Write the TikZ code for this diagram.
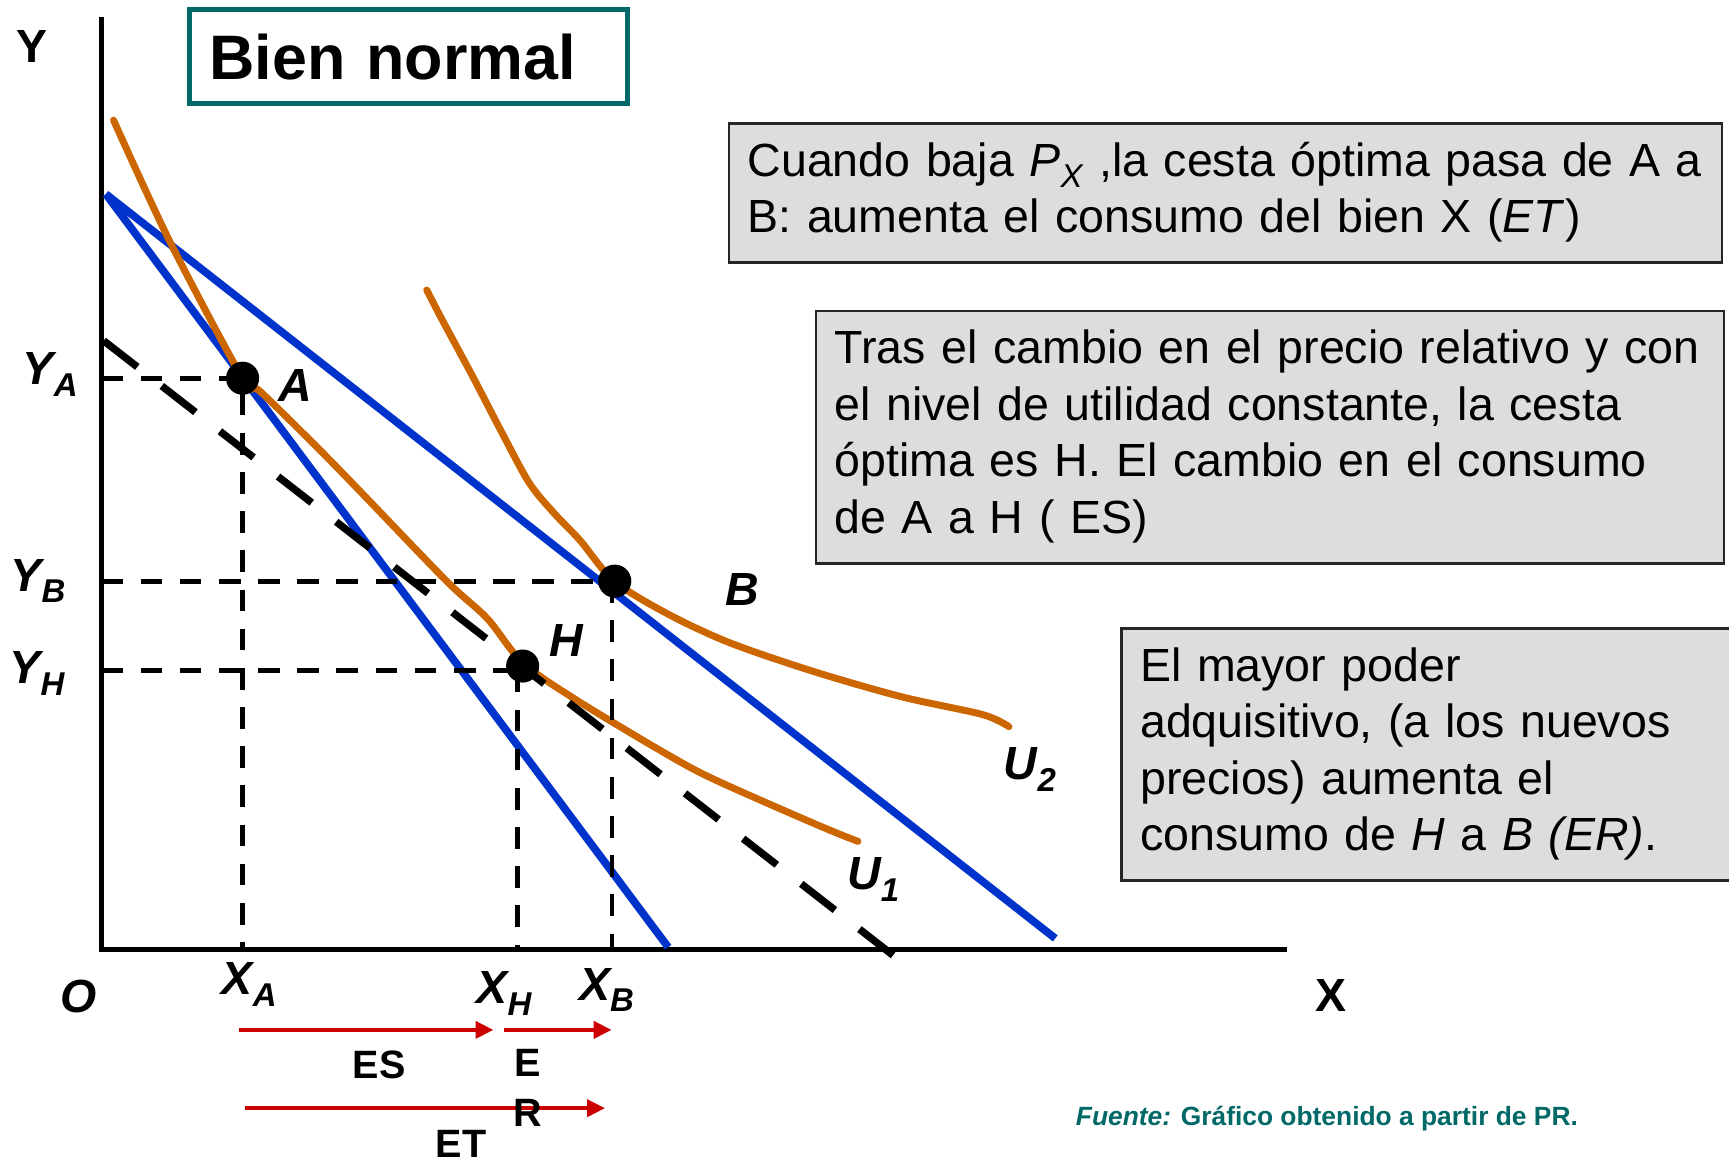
\documentclass[tikz,border=0pt]{standalone}
\usepackage{fontspec}
\setmainfont{Liberation Sans}
\usetikzlibrary{arrows.meta}
\definecolor{budgetblue}{RGB}{0,51,204}
\definecolor{utilorange}{RGB}{204,102,0}
\definecolor{titleteal}{RGB}{0,104,102}
\definecolor{notegray}{RGB}{221,221,221}
\definecolor{effectred}{RGB}{204,0,0}
\newcommand{\lowsub}[1]{\raisebox{-3pt}{\fontsize{8.5}{8.5}\selectfont #1}}
\newcommand{\notelines}[1]{\begin{tabular}{@{}l@{}}#1\end{tabular}}

\begin{document}
\begin{tikzpicture}[x=0.01cm,y=-0.01cm]
        \tikzset{budget/.style={draw=budgetblue,line width=2pt},
            indiff/.style={draw=utilorange,line width=1.8pt,line cap=round,line join=round},
            guide/.style={draw,line width=1.25pt,dash pattern=on 5.6pt off 4.5pt},
            compensated/.style={draw,line width=1.9pt,dash pattern=on 11pt off 8pt},
            basket/.style={circle,fill=black,inner sep=0pt,minimum size=0.3cm},
            axislabel/.style={anchor=base,font=\fontsize{12}{12}\selectfont\bfseries},
            curvelabel/.style={anchor=base,font=\fontsize{12}{12}\selectfont\bfseries\itshape},
            note/.style={anchor=north west,outer sep=0pt,draw=black!85,line width=0.7pt,fill=notegray,
                align=left,inner xsep=0.17cm,font=\fontsize{12}{14.6}\selectfont},
            effect/.style={draw=effectred,line width=0.95pt,-{Triangle[length=4.6pt,width=4.4pt]}},
            effectlabel/.style={anchor=base,font=\fontsize{10.2}{10.2}\selectfont\bfseries}}
        \useasboundingbox (0,0) rectangle (1568,1054);
        \node[anchor=north west,outer sep=0pt,draw=titleteal,line width=1.3pt,minimum height=0.85cm,
            text width=3.61cm,inner xsep=0.18cm,align=left,
            font=\fontsize{16.2}{16.2}\selectfont\bfseries] (title) at (172,9) {Bien normal};
        \node[note,minimum height=1.235cm,text width=8.66cm] (note1) at (661,112)
            {\notelines{Cuando baja \textit{P}\lowsub{\textit{X}} ,la cesta óptima pasa de A a\\
             B: aumenta el consumo del bien X (\textit{ET})}};
        \node[note,minimum height=2.27cm,text width=7.89cm] (note2) at (740,282)
            {\notelines{Tras el cambio en el precio relativo y con\\
             el nivel de utilidad constante, la cesta\\
             óptima es H. El cambio en el consumo\\
             de A a H ( ES)}};
        \node[note,minimum height=2.27cm,text width=5.29cm] (note3) at (1017,570)
            {\notelines{El mayor poder\\
             adquisitivo, (a los nuevos\\
             precios) aumenta el\\
             consumo de \textit{H} a \textit{B (ER)}.}};
        \coordinate (origin) at (92,861);
        \coordinate (ytop) at (92,15);
        \coordinate (xend) at (1167,861);
        \draw[line width=1.4pt] (ytop) -- (origin) -- (xend);
        \coordinate (apex) at (96,176);
        \coordinate (lowcut) at (606,859);
        \coordinate (highcut) at (957,851);
        \draw[budget] (apex) -- (lowcut);
        \draw[budget] (apex) -- (highcut);
        \draw[indiff] plot[smooth,tension=0.5] coordinates {(103,109) (154,219) (220,343)
            (236,355) (287,405) (328,447) (405,527) (442,561) (474,601) (523,635)
            (603,683) (648,707) (741,748) (778,763)};
        \draw[indiff] plot[smooth,tension=0.5] coordinates {(387,263) (401,290) (429,342)
            (455,392) (480,438) (503,466) (526,490) (557,527) (606,557) (662,583)
            (738,609) (818,632) (891,648) (915,659)};
        \coordinate (compstart) at (94,309);
        \coordinate (compend) at (812,868);
        \draw[compensated] (compstart) -- (compend);
        \coordinate (pA) at (220,343);
        \coordinate (pB) at (557.5,527);
        \coordinate (pH) at (474,604);
        \coordinate (yA) at (92,343);
        \coordinate (xA) at (220,859);
        \coordinate (yB) at (92,527);
        \coordinate (xB) at (555,859);
        \coordinate (yH) at (92,608);
        \coordinate (xH) at (469,859);
        \draw[guide] (yA) -- (pA) -- (xA);
        \draw[guide] (yB) -- (pB);
        \draw[guide] (xB |- pB) -- (xB);
        \draw[guide] (yH) -- (yH -| pH);
        \draw[guide] (xH |- yH) -- (xH);
        \node[basket] (A) at (pA) {};
        \node[basket] (B) at (pB) {};
        \node[basket] (H) at (pH) {};
        \node[curvelabel] (Alab) at (268,364) {A};
        \node[curvelabel] (Blab) at (673,549) {B};
        \node[curvelabel] (Hlab) at (514,595) {H};
        \node[curvelabel] (U1lab) at (792,807) {U\lowsub{1}};
        \node[curvelabel] (U2lab) at (934,707) {U\lowsub{2}};
        \node[axislabel] (Ylab) at (29,57) {Y};
        \node[axislabel] (Xlab) at (1207,917) {X};
        \node[curvelabel] (Olab) at (71,918) {O};
        \node[curvelabel] (YAlab) at (45.5,349) {Y\lowsub{A}};
        \node[curvelabel] (YBlab) at (34.5,536) {Y\lowsub{B}};
        \node[curvelabel] (YHlab) at (33.5,620) {Y\lowsub{H}};
        \node[curvelabel] (XAlab) at (226,902) {X\lowsub{A}};
        \node[curvelabel] (XHlab) at (457,910) {X\lowsub{H}};
        \node[curvelabel] (XBlab) at (550,907) {X\lowsub{B}};
        \coordinate (esstart) at (216.6,934);
        \coordinate (esend) at (447.4,934);
        \coordinate (erstart) at (456.7,934);
        \coordinate (erend) at (554.6,934);
        \coordinate (etstart) at (221.9,1005);
        \coordinate (etend) at (548.6,1005);
        \draw[effect] (esstart) -- (esend);
        \draw[effect] (erstart) -- (erend);
        \draw[effect] (etstart) -- (etend);
        \node[effectlabel] (ESlab) at (344,978) {ES};
        \node[effectlabel] (ERlabE) at (479,976) {E};
        \node[effectlabel] (ERlabR) at (479,1022) {R};
        \node[effectlabel] (ETlab) at (418,1050) {ET};
        \node[anchor=base west,inner sep=0pt,text=titleteal,font=\fontsize{6.8}{6.8}\selectfont\bfseries] (source)
            at (975,1021) {\textit{Fuente:} Gráfico obtenido a partir de PR.};
    \end{tikzpicture}
\end{document}
